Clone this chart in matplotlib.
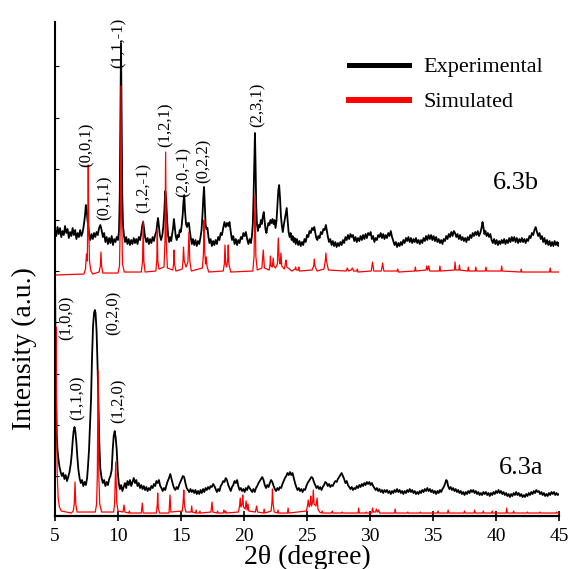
import numpy as np
import matplotlib
matplotlib.use("Agg")
import matplotlib.pyplot as plt
from matplotlib.lines import Line2D

plt.rcParams['font.family'] = ['Liberation Serif', 'DejaVu Serif']

# XRD patterns, 2theta (degree) vs intensity (a.u., offset stacked)
# 6.3b experimental (upper black)
exp_b = [
    (5.0, 286), (5.1, 280), (5.2, 289), (5.3, 282), (5.4, 288), (5.5, 279), (5.6, 285), (5.7, 281),
    (5.8, 290), (5.9, 283), (6.0, 287), (6.1, 278), (6.2, 284), (6.3, 280), (6.4, 288), (6.5, 281),
    (6.6, 286), (6.7, 277), (6.8, 283), (6.9, 279), (7.0, 286), (7.1, 280), (7.2, 284), (7.3, 292),
    (7.38, 300), (7.45, 311), (7.52, 305), (7.58, 296), (7.65, 288), (7.72, 281), (7.8, 276), (7.9, 282),
    (8.0, 277), (8.1, 283), (8.2, 279), (8.3, 284), (8.4, 281), (8.5, 288), (8.6, 291), (8.7, 286),
    (8.8, 279), (8.9, 283), (9.0, 274), (9.1, 279), (9.2, 272), (9.3, 278), (9.4, 273), (9.5, 280),
    (9.6, 271), (9.7, 277), (9.8, 274), (9.9, 279), (10.0, 276), (10.08, 285), (10.14, 320), (10.19, 400),
    (10.24, 473), (10.29, 395), (10.34, 320), (10.4, 290), (10.48, 280), (10.56, 274), (10.65, 279), (10.75, 272),
    (10.85, 277), (10.95, 271), (11.05, 276), (11.15, 272), (11.25, 278), (11.35, 273), (11.45, 277), (11.55, 272),
    (11.65, 279), (11.75, 276), (11.85, 283), (11.93, 291), (12.0, 294), (12.07, 287), (12.15, 279), (12.25, 274),
    (12.35, 278), (12.45, 272), (12.55, 277), (12.65, 273), (12.75, 279), (12.85, 275), (12.95, 281), (13.05, 285),
    (13.12, 293), (13.18, 298), (13.25, 290), (13.32, 281), (13.42, 276), (13.52, 281), (13.6, 290), (13.68, 305),
    (13.75, 325), (13.82, 318), (13.9, 295), (13.98, 280), (14.06, 274), (14.14, 279), (14.22, 275), (14.3, 282),
    (14.37, 288), (14.44, 297), (14.51, 288), (14.58, 280), (14.66, 276), (14.74, 281), (14.82, 279), (14.9, 286),
    (14.98, 284), (15.06, 291), (15.14, 302), (15.2, 315), (15.26, 321), (15.32, 305), (15.4, 292), (15.48, 289),
    (15.56, 293), (15.63, 293), (15.7, 285), (15.78, 278), (15.86, 272), (15.95, 277), (16.05, 271), (16.15, 276),
    (16.25, 270), (16.35, 275), (16.45, 272), (16.55, 279), (16.63, 286), (16.7, 300), (16.77, 318), (16.83, 329),
    (16.89, 310), (16.95, 292), (17.02, 287), (17.1, 288), (17.18, 279), (17.26, 273), (17.35, 277), (17.45, 270),
    (17.55, 275), (17.65, 271), (17.75, 276), (17.85, 272), (17.95, 279), (18.05, 276), (18.15, 283), (18.25, 281),
    (18.35, 288), (18.45, 294), (18.55, 289), (18.65, 293), (18.75, 290), (18.85, 294), (18.95, 284), (19.05, 276),
    (19.15, 280), (19.25, 272), (19.35, 277), (19.45, 271), (19.55, 276), (19.65, 273), (19.75, 279), (19.85, 277),
    (19.95, 283), (20.05, 280), (20.15, 284), (20.25, 277), (20.35, 272), (20.45, 277), (20.55, 273), (20.63, 280),
    (20.7, 292), (20.76, 320), (20.82, 355), (20.87, 383), (20.92, 350), (20.97, 310), (21.03, 292), (21.1, 285),
    (21.18, 291), (21.26, 289), (21.34, 296), (21.42, 292), (21.5, 300), (21.57, 304), (21.63, 296), (21.7, 287),
    (21.78, 283), (21.86, 289), (21.94, 293), (22.02, 291), (22.1, 296), (22.18, 293), (22.26, 297), (22.34, 292),
    (22.42, 296), (22.5, 288), (22.58, 295), (22.65, 310), (22.72, 325), (22.79, 331), (22.86, 318), (22.93, 300),
    (23.0, 291), (23.08, 284), (23.16, 291), (23.24, 297), (23.32, 303), (23.39, 308), (23.46, 296), (23.54, 284),
    (23.62, 279), (23.7, 283), (23.78, 276), (23.86, 280), (23.94, 274), (24.02, 278), (24.1, 272), (24.2, 277),
    (24.3, 271), (24.4, 275), (24.5, 270), (24.6, 274), (24.7, 271), (24.8, 277), (24.9, 274), (25.0, 281),
    (25.1, 279), (25.2, 285), (25.3, 283), (25.4, 288), (25.5, 286), (25.58, 289), (25.66, 283), (25.74, 278),
    (25.82, 276), (25.9, 280), (26.0, 278), (26.1, 284), (26.2, 282), (26.3, 287), (26.4, 286), (26.5, 291),
    (26.58, 285), (26.66, 279), (26.75, 274), (26.85, 277), (26.95, 271), (27.05, 275), (27.15, 270), (27.25, 274),
    (27.35, 269), (27.45, 273), (27.55, 270), (27.65, 274), (27.75, 271), (27.85, 276), (27.95, 273), (28.05, 279),
    (28.15, 276), (28.25, 281), (28.35, 277), (28.45, 282), (28.55, 279), (28.65, 281), (28.75, 275), (28.85, 279),
    (28.95, 274), (29.05, 278), (29.15, 275), (29.25, 280), (29.35, 276), (29.45, 281), (29.55, 277), (29.65, 282),
    (29.75, 278), (29.85, 283), (29.95, 281), (30.05, 284), (30.15, 277), (30.25, 280), (30.35, 274), (30.45, 278),
    (30.55, 276), (30.65, 281), (30.75, 279), (30.85, 283), (30.95, 278), (31.05, 282), (31.15, 277), (31.25, 281),
    (31.35, 278), (31.45, 283), (31.55, 280), (31.65, 285), (31.75, 279), (31.85, 275), (31.95, 271), (32.05, 274),
    (32.15, 269), (32.25, 273), (32.35, 270), (32.45, 274), (32.55, 271), (32.65, 276), (32.75, 273), (32.85, 278),
    (32.95, 275), (33.05, 279), (33.15, 274), (33.25, 278), (33.35, 273), (33.45, 277), (33.55, 274), (33.65, 278),
    (33.75, 273), (33.85, 276), (33.95, 272), (34.05, 276), (34.15, 273), (34.25, 278), (34.35, 275), (34.45, 280),
    (34.55, 276), (34.65, 281), (34.75, 277), (34.85, 281), (34.95, 276), (35.05, 280), (35.15, 275), (35.25, 279),
    (35.35, 274), (35.45, 277), (35.55, 273), (35.65, 276), (35.75, 272), (35.85, 277), (35.95, 275), (36.05, 280),
    (36.15, 277), (36.25, 282), (36.35, 279), (36.45, 284), (36.55, 280), (36.65, 285), (36.75, 283), (36.85, 279),
    (36.95, 282), (37.05, 277), (37.15, 281), (37.25, 276), (37.35, 279), (37.45, 275), (37.55, 278), (37.65, 274),
    (37.75, 279), (37.85, 276), (37.95, 281), (38.05, 278), (38.15, 283), (38.25, 280), (38.35, 284), (38.45, 281),
    (38.55, 285), (38.65, 280), (38.75, 283), (38.85, 288), (38.93, 294), (39.0, 289), (39.08, 282), (39.16, 285),
    (39.25, 280), (39.35, 283), (39.45, 279), (39.55, 282), (39.65, 276), (39.75, 273), (39.85, 277), (39.95, 272),
    (40.05, 276), (40.15, 271), (40.25, 275), (40.35, 272), (40.45, 276), (40.55, 273), (40.65, 277), (40.75, 272),
    (40.85, 276), (40.95, 273), (41.05, 278), (41.15, 274), (41.25, 279), (41.35, 275), (41.45, 279), (41.55, 274),
    (41.65, 278), (41.75, 273), (41.85, 277), (41.95, 274), (42.05, 278), (42.15, 274), (42.25, 277), (42.35, 273),
    (42.45, 277), (42.55, 275), (42.65, 280), (42.75, 278), (42.85, 283), (42.95, 281), (43.05, 286), (43.15, 289),
    (43.25, 284), (43.35, 280), (43.45, 283), (43.55, 277), (43.65, 280), (43.75, 274), (43.85, 278), (43.95, 272),
    (44.05, 276), (44.15, 271), (44.25, 275), (44.35, 270), (44.45, 274), (44.55, 270), (44.65, 275), (44.75, 271),
    (44.85, 274), (44.95, 270), (45.0, 273),
]

# 6.3b simulated (upper red)
sim_b = [
    (5.0, 241), (7.3, 242), (7.42, 247), (7.5, 262), (7.56, 255), (7.6, 290), (7.64, 351), (7.68, 290),
    (7.74, 255), (7.85, 245), (8.0, 242), (8.5, 244), (8.6, 250), (8.65, 264), (8.7, 250), (8.8, 243),
    (10.0, 243), (10.12, 250), (10.19, 300), (10.24, 430), (10.29, 300), (10.36, 252), (10.5, 244), (11.85, 244),
    (11.95, 255), (12.0, 295), (12.05, 255), (12.15, 244), (13.0, 245), (13.08, 255), (13.12, 286), (13.16, 255),
    (13.25, 247), (13.65, 249), (13.73, 275), (13.78, 364), (13.83, 275), (13.92, 248), (14.35, 246), (14.41, 252),
    (14.45, 266), (14.49, 252), (14.6, 245), (15.1, 247), (15.16, 255), (15.2, 269), (15.26, 255), (15.4, 249),
    (15.55, 254), (15.63, 284), (15.7, 255), (15.82, 245), (16.7, 248), (16.78, 262), (16.83, 296), (16.88, 265),
    (16.95, 252), (17.0, 259), (17.06, 250), (17.2, 244), (18.35, 245), (18.44, 252), (18.49, 271), (18.55, 252),
    (18.62, 249), (18.7, 255), (18.75, 271), (18.8, 252), (18.95, 244), (20.7, 245), (20.8, 260), (20.87, 321),
    (20.94, 260), (21.05, 246), (21.42, 248), (21.53, 266), (21.62, 248), (22.0, 246), (22.07, 252), (22.1, 260),
    (22.15, 250), (22.25, 249), (22.32, 258), (22.37, 250), (22.5, 248), (22.65, 252), (22.72, 278), (22.8, 255),
    (22.87, 252), (22.93, 263), (23.0, 250), (23.2, 247), (23.28, 252), (23.33, 256), (23.4, 249), (23.8, 245),
    (24.05, 247), (24.1, 249), (24.15, 246), (24.3, 246), (24.35, 249), (24.4, 245), (25.4, 246), (25.53, 250),
    (25.58, 257), (25.63, 250), (25.8, 245), (26.35, 247), (26.45, 255), (26.5, 263), (26.55, 255), (26.7, 246),
    (28.1, 245), (28.2, 248), (28.3, 245), (28.5, 246), (28.6, 248), (28.7, 245), (28.95, 245), (29.0, 247),
    (29.05, 244), (30.1, 245), (30.2, 254), (30.3, 245), (30.9, 245), (31.0, 253), (31.1, 245), (32.15, 245),
    (32.2, 247), (32.25, 244), (33.55, 245), (33.6, 249), (33.65, 245), (34.45, 246), (34.5, 250), (34.58, 246),
    (34.66, 250), (34.74, 245), (35.5, 245), (35.55, 250), (35.6, 245), (36.7, 246), (36.75, 254), (36.8, 246),
    (37.05, 246), (37.1, 251), (37.15, 246), (37.75, 245), (37.8, 249), (37.85, 245), (38.35, 245), (38.4, 249),
    (38.45, 245), (39.15, 245), (39.2, 249), (39.25, 245), (40.4, 245), (40.45, 250), (40.5, 245), (41.95, 244),
    (42.0, 247), (42.05, 244), (44.25, 244), (44.3, 248), (44.35, 244), (45.0, 244),
]

# 6.3a experimental (lower black)
exp_a = [
    (5.0, 250), (5.04, 170), (5.08, 120), (5.13, 85), (5.2, 66), (5.28, 56), (5.36, 49), (5.45, 44),
    (5.55, 40), (5.65, 43), (5.75, 37), (5.85, 41), (5.95, 35), (6.05, 39), (6.15, 44), (6.25, 52),
    (6.33, 62), (6.41, 76), (6.48, 85), (6.55, 89), (6.62, 84), (6.7, 73), (6.78, 58), (6.86, 46),
    (6.95, 38), (7.05, 33), (7.15, 36), (7.25, 30), (7.35, 34), (7.45, 31), (7.55, 38), (7.62, 50),
    (7.7, 66), (7.78, 90), (7.86, 116), (7.94, 159), (8.02, 190), (8.1, 203), (8.16, 206), (8.22, 203),
    (8.3, 185), (8.38, 150), (8.45, 110), (8.52, 72), (8.6, 47), (8.7, 38), (8.8, 33), (8.9, 36),
    (9.0, 30), (9.1, 34), (9.2, 31), (9.3, 37), (9.4, 40), (9.5, 46), (9.58, 66), (9.66, 80),
    (9.74, 85), (9.82, 78), (9.9, 66), (9.98, 45), (10.06, 33), (10.15, 27), (10.25, 31), (10.35, 25),
    (10.45, 29), (10.55, 33), (10.65, 28), (10.75, 35), (10.85, 31), (10.95, 36), (11.05, 30), (11.15, 34),
    (11.25, 38), (11.35, 33), (11.45, 36), (11.55, 30), (11.65, 33), (11.75, 28), (11.85, 31), (11.95, 27),
    (12.05, 30), (12.15, 26), (12.25, 29), (12.35, 25), (12.45, 28), (12.55, 26), (12.65, 30), (12.75, 28),
    (12.85, 32), (12.95, 30), (13.05, 35), (13.15, 33), (13.25, 36), (13.35, 30), (13.45, 28), (13.55, 25),
    (13.65, 28), (13.75, 26), (13.85, 31), (13.95, 35), (14.05, 38), (14.15, 42), (14.25, 37), (14.35, 32),
    (14.45, 28), (14.55, 26), (14.65, 29), (14.75, 27), (14.85, 31), (14.95, 34), (15.05, 37), (15.15, 40),
    (15.25, 39), (15.35, 33), (15.45, 28), (15.55, 26), (15.65, 24), (15.75, 27), (15.85, 24), (15.95, 26),
    (16.05, 23), (16.15, 26), (16.25, 22), (16.35, 25), (16.45, 22), (16.55, 26), (16.65, 23), (16.75, 27),
    (16.85, 24), (16.95, 28), (17.05, 26), (17.15, 29), (17.25, 27), (17.35, 30), (17.45, 29), (17.55, 32),
    (17.65, 30), (17.75, 27), (17.85, 24), (17.95, 27), (18.05, 25), (18.15, 30), (18.25, 32), (18.35, 35),
    (18.45, 34), (18.55, 38), (18.65, 36), (18.75, 31), (18.85, 28), (18.95, 25), (19.05, 29), (19.15, 31),
    (19.25, 35), (19.35, 33), (19.45, 36), (19.55, 30), (19.65, 26), (19.75, 28), (19.85, 25), (19.95, 27),
    (20.05, 24), (20.15, 28), (20.25, 26), (20.35, 30), (20.45, 28), (20.55, 26), (20.65, 24), (20.75, 27),
    (20.85, 24), (20.95, 28), (21.05, 30), (21.15, 33), (21.25, 35), (21.35, 37), (21.45, 39), (21.55, 36),
    (21.65, 31), (21.75, 28), (21.85, 31), (21.95, 29), (22.05, 33), (22.15, 36), (22.25, 34), (22.35, 30),
    (22.45, 27), (22.55, 25), (22.65, 28), (22.75, 26), (22.85, 29), (22.95, 28), (23.05, 32), (23.15, 35),
    (23.25, 38), (23.35, 40), (23.45, 43), (23.55, 41), (23.65, 44), (23.75, 41), (23.85, 43), (23.95, 38),
    (24.05, 33), (24.15, 29), (24.25, 26), (24.35, 28), (24.45, 25), (24.55, 27), (24.65, 24), (24.75, 27),
    (24.85, 26), (24.95, 30), (25.05, 33), (25.15, 35), (25.25, 37), (25.35, 39), (25.45, 38), (25.55, 34),
    (25.65, 31), (25.75, 28), (25.85, 30), (25.95, 27), (26.05, 29), (26.15, 26), (26.25, 29), (26.35, 31),
    (26.45, 34), (26.55, 33), (26.65, 30), (26.75, 32), (26.85, 29), (26.95, 31), (27.05, 30), (27.15, 33),
    (27.25, 35), (27.35, 34), (27.45, 37), (27.55, 39), (27.65, 41), (27.75, 43), (27.85, 40), (27.95, 37),
    (28.05, 33), (28.15, 35), (28.25, 31), (28.35, 29), (28.45, 27), (28.55, 29), (28.65, 26), (28.75, 28),
    (28.85, 27), (28.95, 30), (29.05, 28), (29.15, 31), (29.25, 29), (29.35, 32), (29.45, 30), (29.55, 33),
    (29.65, 31), (29.75, 34), (29.85, 32), (29.95, 34), (30.05, 31), (30.15, 33), (30.25, 30), (30.35, 28),
    (30.45, 26), (30.55, 28), (30.65, 25), (30.75, 27), (30.85, 24), (30.95, 26), (31.05, 23), (31.15, 26),
    (31.25, 24), (31.35, 26), (31.45, 23), (31.55, 25), (31.65, 22), (31.75, 25), (31.85, 23), (31.95, 26),
    (32.05, 24), (32.15, 27), (32.25, 24), (32.35, 26), (32.45, 23), (32.55, 25), (32.65, 22), (32.75, 25),
    (32.85, 23), (32.95, 26), (33.05, 24), (33.15, 27), (33.25, 24), (33.35, 26), (33.45, 23), (33.55, 25),
    (33.65, 22), (33.75, 24), (33.85, 22), (33.95, 25), (34.05, 23), (34.15, 26), (34.25, 24), (34.35, 27),
    (34.45, 25), (34.55, 28), (34.65, 25), (34.75, 27), (34.85, 24), (34.95, 26), (35.05, 23), (35.15, 25),
    (35.25, 22), (35.35, 25), (35.45, 23), (35.55, 26), (35.65, 24), (35.75, 27), (35.85, 29), (35.95, 32),
    (36.05, 36), (36.12, 35), (36.2, 30), (36.3, 27), (36.4, 29), (36.5, 26), (36.6, 28), (36.7, 25),
    (36.8, 27), (36.9, 24), (37.0, 26), (37.1, 23), (37.2, 25), (37.3, 22), (37.4, 24), (37.5, 21),
    (37.6, 24), (37.7, 22), (37.8, 25), (37.9, 23), (38.0, 26), (38.1, 24), (38.2, 26), (38.3, 23),
    (38.4, 25), (38.5, 22), (38.6, 24), (38.7, 21), (38.8, 23), (38.9, 21), (39.0, 24), (39.1, 22),
    (39.2, 24), (39.3, 21), (39.4, 23), (39.5, 20), (39.6, 23), (39.7, 21), (39.8, 24), (39.9, 22),
    (40.0, 25), (40.1, 23), (40.2, 26), (40.3, 23), (40.4, 25), (40.5, 22), (40.6, 24), (40.7, 21),
    (40.8, 23), (40.9, 20), (41.0, 22), (41.1, 19), (41.2, 22), (41.3, 20), (41.4, 23), (41.5, 21),
    (41.6, 24), (41.7, 21), (41.8, 23), (41.9, 20), (42.0, 22), (42.1, 19), (42.2, 21), (42.3, 19),
    (42.4, 22), (42.5, 20), (42.6, 23), (42.7, 21), (42.8, 24), (42.9, 22), (43.0, 25), (43.1, 23),
    (43.2, 26), (43.3, 24), (43.4, 25), (43.5, 22), (43.6, 24), (43.7, 21), (43.8, 23), (43.9, 20),
    (44.0, 22), (44.1, 20), (44.2, 23), (44.3, 21), (44.4, 24), (44.5, 22), (44.6, 24), (44.7, 21),
    (44.8, 23), (44.9, 21), (45.0, 22),
]

# 6.3a simulated (lower red)
sim_a = [
    (5.0, 70), (5.04, 150), (5.08, 189), (5.12, 120), (5.17, 45), (5.25, 18), (5.35, 9), (5.5, 5),
    (6.3, 3), (6.45, 5), (6.53, 12), (6.59, 34), (6.65, 12), (6.75, 4), (8.2, 4), (8.3, 12),
    (8.36, 40), (8.42, 146), (8.48, 40), (8.55, 12), (8.7, 4), (9.65, 4), (9.73, 12), (9.82, 54),
    (9.9, 14), (10.0, 5), (10.4, 4), (10.48, 11), (10.55, 4), (10.85, 3), (10.9, 5), (10.95, 3),
    (11.85, 3), (11.93, 13), (12.0, 3), (13.05, 3), (13.12, 12), (13.15, 23), (13.2, 8), (13.3, 3),
    (14.05, 3), (14.13, 21), (14.2, 4), (15.1, 5), (15.17, 14), (15.22, 26), (15.28, 10), (15.4, 4),
    (15.8, 4), (15.85, 10), (15.9, 4), (16.15, 3), (16.2, 6), (16.25, 3), (16.45, 3), (16.5, 5),
    (16.55, 3), (17.38, 4), (17.46, 14), (17.53, 4), (17.85, 3), (17.9, 5), (17.95, 3), (18.35, 3),
    (18.4, 6), (18.5, 3), (18.55, 5), (18.6, 3), (19.55, 4), (19.65, 10), (19.7, 18), (19.76, 9),
    (19.85, 12), (19.9, 21), (19.96, 9), (20.1, 7), (20.17, 15), (20.25, 6), (20.32, 12), (20.38, 5),
    (20.9, 4), (21.0, 10), (21.08, 4), (21.55, 3), (21.6, 7), (21.65, 3), (22.15, 5), (22.22, 14),
    (22.26, 27), (22.31, 12), (22.4, 4), (22.65, 3), (22.7, 6), (22.75, 3), (23.45, 3), (23.5, 8),
    (23.55, 3), (24.95, 5), (25.05, 11), (25.1, 16), (25.17, 9), (25.25, 12), (25.3, 20), (25.36, 10),
    (25.45, 14), (25.5, 26), (25.56, 12), (25.72, 10), (25.8, 18), (25.87, 7), (26.0, 4), (26.15, 3),
    (26.2, 5), (26.25, 3), (26.95, 3), (27.0, 5), (27.05, 3), (27.75, 3), (27.8, 4), (27.85, 3),
    (29.05, 3), (29.1, 8), (29.15, 3), (29.65, 3), (29.7, 4), (29.75, 3), (30.15, 3), (30.2, 8),
    (30.27, 4), (30.45, 4), (30.5, 7), (30.6, 4), (30.7, 6), (30.75, 3), (31.95, 3), (32.0, 7),
    (32.05, 3), (32.95, 3), (33.0, 4), (33.05, 3), (33.95, 3), (34.0, 4), (34.05, 3), (35.35, 3),
    (35.4, 5), (35.45, 3), (36.15, 3), (36.2, 6), (36.25, 3), (37.45, 3), (37.5, 5), (37.55, 3),
    (38.25, 3), (38.3, 6), (38.35, 3), (38.95, 3), (39.0, 5), (39.05, 3), (39.65, 3), (39.7, 5),
    (39.75, 3), (40.8, 3), (40.85, 8), (40.9, 3), (41.35, 3), (41.4, 5), (41.45, 3), (42.45, 3),
    (42.5, 4), (42.55, 3), (43.45, 3), (43.5, 4), (43.55, 3), (44.75, 3), (44.8, 4), (44.85, 3),
    (45.0, 3),
]

# Miller index labels: (label, 2theta, intensity at label bottom)
hkl_b = [("(0,0,1)", 7.54, 349), ("(0,1,1)", 8.97, 296), ("(1,1,-1)", 10.08, 448),
         ("(1,2,-1)", 12.06, 303), ("(1,2,1)", 13.81, 369), ("(2,0,-1)", 15.24, 319),
         ("(0,2,2)", 16.83, 333), ("(2,3,1)", 21.11, 389)]
hkl_a = [("(1,0,0)", 5.95, 176), ("(1,1,0)", 6.83, 96),
         ("(0,2,0)", 9.68, 181), ("(1,2,0)", 10.08, 93)]

xticks = [5, 10, 15, 20, 25, 30, 35, 40, 45]

fig = plt.figure(figsize=(5.71, 5.69), dpi=100)
ax = fig.add_axes([0.0963, 0.0931, 0.8827, 0.8682])

for data, col, lw in [(exp_b, 'black', 1.3), (exp_a, 'black', 1.3),
                      (sim_b, 'red', 0.9), (sim_a, 'red', 0.9)]:
    arr = np.array(data)
    ax.plot(arr[:, 0], arr[:, 1], color=col, lw=lw)

for lab, x, y in hkl_b + hkl_a:
    ax.text(x, y, lab, rotation=90, ha='center', va='bottom', fontsize=12)

ax.text(41.6, 333, "6.3b", ha='center', va='center', fontsize=19)
ax.text(42.0, 48, "6.3a", ha='center', va='center', fontsize=19)

handles = [Line2D([], [], color='black', lw=3.6), Line2D([], [], color='red', lw=4.3)]
ax.legend(handles, ["Experimental", "Simulated"], loc='upper left',
          bbox_to_anchor=(0.561, 0.952), frameon=False, fontsize=16,
          handlelength=2.7, handletextpad=0.65, labelspacing=0.65, borderpad=0)

ax.set_xlim(5, 45)
ax.set_ylim(0, 494)
ax.set_xticks(xticks)
ax.set_yticks(np.arange(40, 494, 51.2))
ax.set_yticklabels([])
ax.tick_params(axis='x', direction='inout', length=7, width=1.2, labelsize=14, pad=5)
ax.tick_params(axis='y', direction='in', length=3, width=0.8)
for s in ['top', 'right']:
    ax.spines[s].set_visible(False)
ax.spines['left'].set_linewidth(1.5)
ax.spines['bottom'].set_linewidth(1.6)

ax.set_xlabel("2θ (degree)", fontsize=20, labelpad=0)
ax.set_ylabel("Intensity (a.u.)", fontsize=20)
ax.yaxis.set_label_coords(-0.036, 0.34)

fig.savefig("out.png", dpi=100)
